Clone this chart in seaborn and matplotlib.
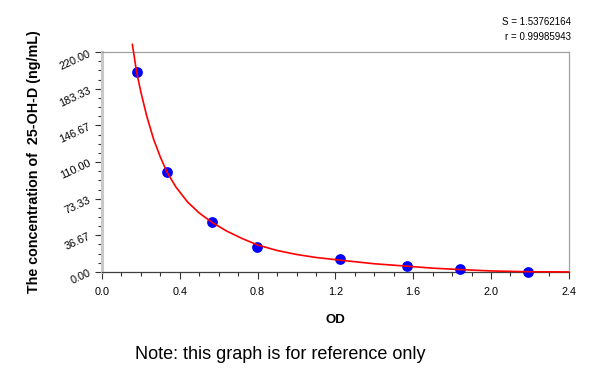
import numpy as np
import pandas as pd
import seaborn as sns
import matplotlib.pyplot as plt
from matplotlib.ticker import MultipleLocator

# standard points (OD vs concentration)
od = [0.178, 0.334, 0.563, 0.796, 1.224, 1.566, 1.840, 2.190]
conc = [200, 100, 50, 25, 12.5, 6.25, 3.125, 0]

# fitted curve
curve_od = [0.156, 0.178, 0.200, 0.230, 0.265, 0.300, 0.334, 0.380, 0.440, 0.500,
            0.563, 0.640, 0.720, 0.800, 0.900, 1.000, 1.100, 1.224, 1.400, 1.566,
            1.700, 1.840, 2.000, 2.200, 2.400]
curve_conc = [228, 200, 180, 156, 133, 115, 100, 85, 70, 59,
              50, 41, 33.5, 27, 21.5, 17.5, 14.5, 11.8, 8.2, 5.8,
              3.8, 2.4, 1.0, 0.2, 0]

y_ticks = [0, 36.67, 73.33, 110, 146.67, 183.33, 220]
x_ticks = [0.0, 0.4, 0.8, 1.2, 1.6, 2.0, 2.4]

pts = pd.DataFrame({'od': od, 'conc': conc})
fit = pd.DataFrame({'od': curve_od, 'conc': curve_conc})

sns.set_style('white')
plt.rcParams['font.family'] = ['Liberation Sans', 'DejaVu Sans']
plt.rcParams['text.color'] = 'black'
plt.rcParams['axes.labelcolor'] = 'black'
plt.rcParams['xtick.color'] = 'black'
plt.rcParams['ytick.color'] = 'black'

fig = plt.figure(figsize=(6, 3.7), dpi=100)
ax = fig.add_axes([0.17, 0.265, 0.778, 0.594])

sns.scatterplot(data=pts, x='od', y='conc', ax=ax, color='#0000ff', s=60,
                edgecolor='#0000ff', linewidth=0, zorder=3, clip_on=False)
sns.lineplot(data=fit, x='od', y='conc', ax=ax, color='#ff0000', linewidth=1.2,
             estimator=None, sort=False, zorder=4)
for ln in ax.lines:
    ln.set_clip_on(False)

ax.set_xlim(0, 2.4)
ax.set_ylim(0, 220)
ax.set_xticks(x_ticks)
ax.set_xticklabels([f'{v:.1f}' for v in x_ticks])
ax.set_yticks(y_ticks)
ax.set_yticklabels([f'{v:.2f}' for v in y_ticks], rotation=25, ha='right',
                   rotation_mode='anchor')
ax.xaxis.set_minor_locator(MultipleLocator(0.1))
ax.yaxis.set_minor_locator(MultipleLocator(220 / 24))

ax.tick_params(axis='both', which='both', bottom=True, left=True)
ax.tick_params(axis='both', which='major', direction='out', length=5, width=0.8,
               color='#333333', labelsize=7.8, labelcolor='black', pad=3)
ax.tick_params(axis='both', which='minor', direction='out', length=3, width=0.8,
               color='#333333')
ax.tick_params(axis='x', which='major', pad=6)
ax.tick_params(axis='y', which='major', pad=4)

ax.spines['left'].set_color('#c8c8c8')
ax.spines['left'].set_linewidth(2.2)
ax.spines['bottom'].set_color('#404040')
ax.spines['bottom'].set_linewidth(0.9)
for s in ['top', 'right']:
    ax.spines[s].set_color('#a0a0a0')
    ax.spines[s].set_linewidth(0.9)

ax.set_xlabel('OD', fontsize=9.5, fontweight='bold', labelpad=12)
ax.set_ylabel('The concentration of  25-OH-D (ng/mL)', fontsize=10.3,
              fontweight='bold')
ax.yaxis.set_label_coords(-0.13, 0.5)

fig.text(0.952, 0.94, 'S = 1.53762164', ha='right', va='center', fontsize=7)
fig.text(0.952, 0.90, 'r = 0.99985943', ha='right', va='center', fontsize=7)
fig.text(0.467, 0.043, 'Note: this graph is for reference only', ha='center',
         va='center', fontsize=13)

fig.savefig('out.png', dpi=100)
